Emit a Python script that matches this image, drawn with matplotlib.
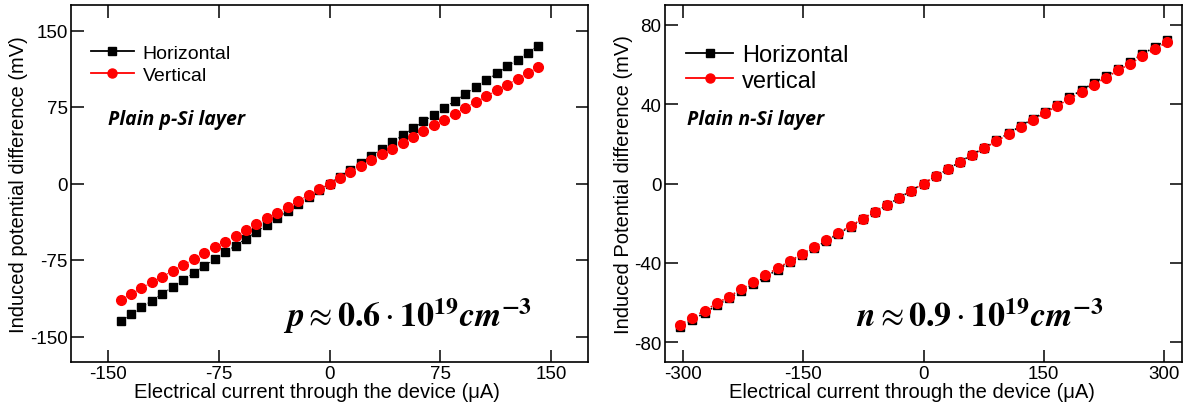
import numpy as np
import matplotlib
matplotlib.use('Agg')
import matplotlib.pyplot as plt

# left panel: plain p-Si layer
p_current = [-141.4, -134.3, -127.3, -120.2, -113.1, -106.1, -99.0, -91.9, -84.8, -77.8,
             -70.7, -63.6, -56.6, -49.5, -42.4, -35.4, -28.3, -21.2, -14.1, -7.1, 0.0,
             7.1, 14.1, 21.2, 28.3, 35.4, 42.4, 49.5, 56.6, 63.6, 70.7,
             77.8, 84.8, 91.9, 99.0, 106.1, 113.1, 120.2, 127.3, 134.3, 141.4]
p_horizontal = [-135.0, -128.3, -121.5, -114.8, -108.0, -101.3, -94.5, -87.8, -81.0, -74.3,
                -67.5, -60.8, -54.0, -47.3, -40.5, -33.8, -27.0, -20.3, -13.5, -6.8, 0.0,
                6.8, 13.5, 20.3, 27.0, 33.8, 40.5, 47.3, 54.0, 60.8, 67.5,
                74.3, 81.0, 87.8, 94.5, 101.3, 108.0, 114.8, 121.5, 128.3, 135.0]
p_vertical = [-114.0, -108.3, -102.6, -96.9, -91.2, -85.5, -79.8, -74.1, -68.4, -62.7,
              -57.0, -51.3, -45.6, -39.9, -34.2, -28.5, -22.8, -17.1, -11.4, -5.7, 0.0,
              5.7, 11.4, 17.1, 22.8, 28.5, 34.2, 39.9, 45.6, 51.3, 57.0,
              62.7, 68.4, 74.1, 79.8, 85.5, 91.2, 96.9, 102.6, 108.3, 114.0]

# right panel: plain n-Si layer
n_current = [-304.0, -288.8, -273.6, -258.4, -243.2, -228.0, -212.8, -197.6, -182.4, -167.2,
             -152.0, -136.8, -121.6, -106.4, -91.2, -76.0, -60.8, -45.6, -30.4, -15.2, 0.0,
             15.2, 30.4, 45.6, 60.8, 76.0, 91.2, 106.4, 121.6, 136.8, 152.0,
             167.2, 182.4, 197.6, 212.8, 228.0, 243.2, 258.4, 273.6, 288.8, 304.0]
n_horizontal = [-72.4, -68.8, -65.2, -61.5, -57.9, -54.3, -50.7, -47.1, -43.4, -39.8,
                -36.2, -32.6, -29.0, -25.3, -21.7, -18.1, -14.5, -10.9, -7.2, -3.6, 0.0,
                3.6, 7.2, 10.9, 14.5, 18.1, 21.7, 25.3, 29.0, 32.6, 36.2,
                39.8, 43.4, 47.1, 50.7, 54.3, 57.9, 61.5, 65.2, 68.8, 72.4]
n_vertical = [-71.2, -67.6, -64.1, -60.5, -57.0, -53.4, -49.8, -46.3, -42.7, -39.2,
              -35.6, -32.0, -28.5, -24.9, -21.4, -17.8, -14.2, -10.7, -7.1, -3.6, 0.0,
              3.6, 7.1, 10.7, 14.2, 17.8, 21.4, 24.9, 28.5, 32.0, 35.6,
              39.2, 42.7, 46.3, 49.8, 53.4, 57.0, 60.5, 64.1, 67.6, 71.2]

p_ticks = [-150, -75, 0, 75, 150]
n_xticks = [-300, -150, 0, 150, 300]
n_yticks = [-80, -40, 0, 40, 80]

plt.rcParams['font.family'] = ['Liberation Sans', 'DejaVu Sans']
plt.rcParams['axes.unicode_minus'] = False

fig = plt.figure(figsize=(11.88, 4.10), dpi=100)
ax0 = fig.add_axes([71/1188, 47/410, 517/1188, 357/410])
ax1 = fig.add_axes([665/1188, 47/410, 517/1188, 357/410])


def style(ax, xt, yt):
    ax.set_xticks(xt)
    ax.set_yticks(yt)
    ax.tick_params(direction='in', length=9, width=1.1, top=True, right=True,
                   labelsize=13.5, pad=2.5)
    for s in ax.spines.values():
        s.set_linewidth(1.2)


def conc(sym, val):
    return (r'$\boldsymbol{' + sym + r'} \approx \mathbf{' + val + r'} \cdot \mathbf{10}'
            r'^{\mathbf{19}}\boldsymbol{cm}^{\mathbf{-3}}$')


# left
ax0.plot(p_current, p_horizontal, ls=':', lw=0.8, c='black', marker='s', ms=6.2)
ax0.plot(p_current, p_vertical, ls=':', lw=0.8, c='red', marker='o', ms=7)
ax0.set_xlim(-175, 175)
ax0.set_ylim(-175, 175)
style(ax0, p_ticks, p_ticks)
ax0.set_xlabel('Electrical current through the device (\u03bcA)', fontsize=14.5, labelpad=0)
ax0.xaxis.label.set_x(0.475)
ax0.set_ylabel('Induced potential difference (mV)', fontsize=14.5, labelpad=1)
h = [plt.Line2D([], [], c='black', lw=1.3, marker='s', ms=6),
     plt.Line2D([], [], c='red', lw=1.3, marker='o', ms=6.5)]
ax0.legend(h, ['Horizontal', 'Vertical'], loc='upper left', frameon=False, fontsize=14,
           handlelength=2.2, handletextpad=0.45, labelspacing=0.25,
           bbox_to_anchor=(0.005, 0.94))
ax0.text(0.072, 0.68, 'Plain p-Si layer', transform=ax0.transAxes, fontsize=14,
         fontweight='bold', style='italic', family='Open Sans', va='center')
ax0.text(0.41, 0.1, conc('p', '0.6'), transform=ax0.transAxes, fontsize=24.5,
         math_fontfamily='stix')

# right
ax1.plot(n_current, n_horizontal, ls=':', lw=1.2, c='black', marker='s', ms=6)
ax1.plot(n_current, n_vertical, ls=':', lw=1.2, c='red', marker='o', ms=7)
ax1.set_xlim(-323, 323)
ax1.set_ylim(-90, 90)
style(ax1, n_xticks, n_yticks)
ax1.set_xlabel('Electrical current through the device (\u03bcA)', fontsize=14.5, labelpad=0)
ax1.xaxis.label.set_x(0.477)
ax1.set_ylabel('Induced Potential difference (mV)', fontsize=14.5, labelpad=1)
h = [plt.Line2D([], [], c='black', lw=1.3, marker='s', ms=6),
     plt.Line2D([], [], c='red', lw=1.3, marker='o', ms=6.5)]
ax1.legend(h, ['Horizontal', 'vertical'], loc='upper left', frameon=False, fontsize=17,
           handlelength=2.0, handletextpad=0.35, labelspacing=0.15,
           bbox_to_anchor=(0.0, 0.95))
ax1.text(0.042, 0.68, 'Plain n-Si layer', transform=ax1.transAxes, fontsize=14,
         fontweight='bold', style='italic', family='Open Sans', va='center')
ax1.text(0.37, 0.1, conc('n', '0.9'), transform=ax1.transAxes, fontsize=24.5,
         math_fontfamily='stix')

fig.savefig('out.png', dpi=100)
